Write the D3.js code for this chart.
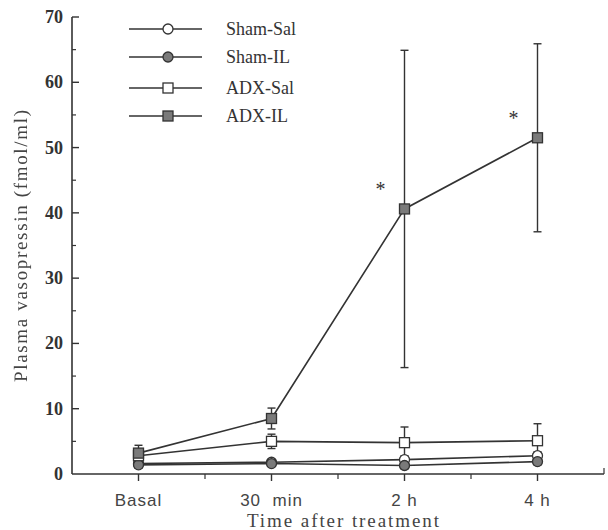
<!DOCTYPE html>
<html>
<head>
<meta charset="utf-8">
<script src="https://cdn.jsdelivr.net/npm/d3@7"></script>
<style>
  html, body { margin: 0; padding: 0; background: #fff; }
  svg { display: block; -webkit-font-smoothing: antialiased; }
  .ytitle { filter: grayscale(1); text-rendering: geometricPrecision; }
</style>
</head>
<body>
<svg id="chart" width="608" height="530"></svg>
<script>
// ---- data ----
const categories = ["Basal", "30  min", "2 h", "4 h"];
const seriesNames = ["Sham-Sal", "Sham-IL", "ADX-Sal", "ADX-IL"];
const shamSal = [1.6, 1.8, 2.2, 2.8];
const shamSalErr = [0.4, 0.3, 0.6, 0.6];
const shamIL = [1.4, 1.6, 1.3, 1.9];
const shamILErr = [0.5, 0.4, 0.5, 0.5];
const adxSal = [2.8, 5.0, 4.8, 5.1];
const adxSalErr = [0.8, 1.1, 2.4, 2.6];
const adxIL = [3.2, 8.5, 40.6, 51.5];
const adxILErr = [1.2, 1.6, 24.3, 14.4];
const yTicks = [0, 10, 20, 30, 40, 50, 60, 70];
const yMinorTicks = [5, 15, 25, 35, 45, 55, 65];
const significant = ["2 h", "4 h"]; // ADX-IL points marked with *

const series = [
  { name: seriesNames[0], values: shamSal, err: shamSalErr, shape: "circle", fill: "#fff" },
  { name: seriesNames[1], values: shamIL, err: shamILErr, shape: "circle", fill: "#7a7a7a" },
  { name: seriesNames[2], values: adxSal, err: adxSalErr, shape: "square", fill: "#fff" },
  { name: seriesNames[3], values: adxIL, err: adxILErr, shape: "square", fill: "#7a7a7a" }
];

const ink = "#333";
const svg = d3.select("#chart");

const x = d3.scalePoint().domain(categories).range([72, 604]).padding(0.5);
const y = d3.scaleLinear().domain([0, 70]).range([474, 17]);
const step = x.step();

// ---- axes ----
const g = svg.append("g");
g.append("line").attr("x1", 72).attr("x2", 72).attr("y1", y(70)).attr("y2", y(0))
  .attr("stroke", ink).attr("stroke-width", 1.6);
g.append("line").attr("x1", 72).attr("x2", 604).attr("y1", y(0)).attr("y2", y(0))
  .attr("stroke", ink).attr("stroke-width", 1.6);

yTicks.forEach(t => {
  if (t > 0) g.append("line").attr("x1", 72).attr("x2", 79).attr("y1", y(t)).attr("y2", y(t))
    .attr("stroke", ink).attr("stroke-width", 1.4);
  g.append("text").attr("x", 63).attr("y", y(t) + 6).attr("text-anchor", "end")
    .attr("font-family", "Liberation Serif, serif").attr("font-weight", "bold")
    .attr("font-size", 18).attr("fill", ink).text(t);
});
yMinorTicks.forEach(t => {
  g.append("line").attr("x1", 72).attr("x2", 76).attr("y1", y(t)).attr("y2", y(t))
    .attr("stroke", ink).attr("stroke-width", 1.2);
});

categories.forEach((c, i) => {
  g.append("line").attr("x1", x(c)).attr("x2", x(c)).attr("y1", y(0)).attr("y2", y(0) + 7)
    .attr("stroke", ink).attr("stroke-width", 1.4);
  if (i < categories.length - 1) {
    g.append("line").attr("x1", x(c) + step / 2).attr("x2", x(c) + step / 2)
      .attr("y1", y(0)).attr("y2", y(0) + 5).attr("stroke", ink).attr("stroke-width", 1.2);
  }
  g.append("text").attr("x", x(c)).attr("y", 506).attr("text-anchor", "middle")
    .attr("font-family", "Liberation Sans, Arial, sans-serif").attr("font-size", 17)
    .attr("letter-spacing", 1).attr("fill", "#444").style("white-space", "pre").text(c);
});
const lastX = x(categories[categories.length - 1]) + step / 2;
g.append("line").attr("x1", lastX).attr("x2", lastX).attr("y1", y(0)).attr("y2", y(0) - 6)
  .attr("stroke", ink).attr("stroke-width", 1.2);

g.append("text").attr("x", 343).attr("y", 527).attr("text-anchor", "middle")
  .attr("font-family", "Liberation Serif, serif").attr("font-size", 19)
  .attr("textLength", 192).attr("lengthAdjust", "spacing")
  .attr("fill", "#444").text("Time after treatment");
g.append("text").attr("class", "ytitle")
  .attr("transform", "translate(27,246) rotate(-90)").attr("text-anchor", "middle")
  .attr("font-family", "Liberation Serif, serif").attr("font-size", 19)
  .attr("textLength", 272).attr("lengthAdjust", "spacing")
  .attr("fill", "#444").text("Plasma vasopressin (fmol/ml)");

// ---- marks ----
const line = d3.line().x((d, i) => x(categories[i])).y(d => y(d));

function drawMarker(sel, shape, cx, cy, fill) {
  if (shape === "circle") {
    sel.append("circle").attr("cx", cx).attr("cy", cy).attr("r", 5)
      .attr("fill", fill).attr("stroke", ink).attr("stroke-width", 1.3);
  } else {
    sel.append("rect").attr("x", cx - 5).attr("y", cy - 5).attr("width", 10).attr("height", 10)
      .attr("fill", fill).attr("stroke", ink).attr("stroke-width", 1.3);
  }
}

const marks = svg.append("g");
series.forEach(s => {
  marks.append("path").attr("d", line(s.values)).attr("fill", "none")
    .attr("stroke", ink).attr("stroke-width", 1.6);
});
series.forEach(s => {
  s.values.forEach((v, i) => {
    const cx = x(categories[i]);
    const lo = y(v - s.err[i]), hi = y(v + s.err[i]);
    marks.append("line").attr("x1", cx).attr("x2", cx).attr("y1", lo).attr("y2", hi)
      .attr("stroke", ink).attr("stroke-width", 1.4);
    [lo, hi].forEach(yy => marks.append("line").attr("x1", cx - 4).attr("x2", cx + 4)
      .attr("y1", yy).attr("y2", yy).attr("stroke", ink).attr("stroke-width", 1.4));
  });
});
series.forEach(s => {
  s.values.forEach((v, i) => drawMarker(marks, s.shape, x(categories[i]), y(v), s.fill));
});

significant.forEach(c => {
  const i = categories.indexOf(c);
  marks.append("text").attr("x", x(c) - 24).attr("y", y(adxIL[i]) - 13)
    .attr("text-anchor", "middle").attr("font-family", "Liberation Serif, serif")
    .attr("font-size", 20).attr("fill", ink).text("*");
});

// ---- legend ----
const legend = svg.append("g");
const legendY = [29, 57, 88, 116];
series.forEach((s, i) => {
  const ly = legendY[i];
  legend.append("line").attr("x1", 129).attr("x2", 202).attr("y1", ly).attr("y2", ly)
    .attr("stroke", ink).attr("stroke-width", 1.6);
  drawMarker(legend, s.shape, 168, ly, s.fill);
  legend.append("text").attr("x", 226).attr("y", ly + 6)
    .attr("font-family", "Liberation Serif, serif").attr("font-size", 18)
    .attr("fill", "#333").text(s.name);
});
</script>
</body>
</html>
